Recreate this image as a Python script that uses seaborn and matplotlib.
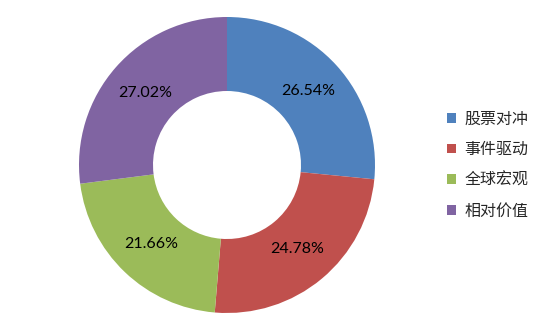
import matplotlib
matplotlib.use("Agg")
import matplotlib.pyplot as plt
import seaborn as sns

categories = ["股票对冲", "事件驱动", "全球宏观", "相对价值"]
values = [26.54, 24.78, 21.66, 27.02]
colors = ["#4F81BD", "#C0504D", "#9BBB59", "#8064A2"]

sns.set_theme(style="white")
plt.rcParams['font.family'] = ['Noto Sans CJK SC', 'DejaVu Sans']

fig = plt.figure(figsize=(5.5, 3.3), dpi=100)
W, H = 550, 330
cx, cy, r = 227, 165, 148
ax = fig.add_axes([(cx - r) / W, (H - cy - r) / H, 2 * r / W, 2 * r / H])

wedges, texts, autotexts = ax.pie(
    values, colors=colors, startangle=90, counterclock=False,
    radius=1, autopct=lambda p: f"{p:.2f}%", pctdistance=0.74,
    wedgeprops=dict(width=0.5, edgecolor="none", linewidth=0),
    textprops=dict(fontsize=11.5, color="black", family=["Lato", "DejaVu Sans"]))
ax.set_xlim(-1, 1)
ax.set_ylim(-1, 1)
ax.set_aspect("equal")
ax.axis("off")

leg = fig.legend(wedges, categories, loc="center left",
                 bbox_to_anchor=(441 / W, 1 - 165 / H), frameon=False,
                 fontsize=11.5, handlelength=0.55, handleheight=0.55,
                 handletextpad=0.5, labelspacing=0.85, borderaxespad=0)
for t in leg.get_texts():
    t.set_color("#262626")

fig.savefig("out.png", dpi=100)
